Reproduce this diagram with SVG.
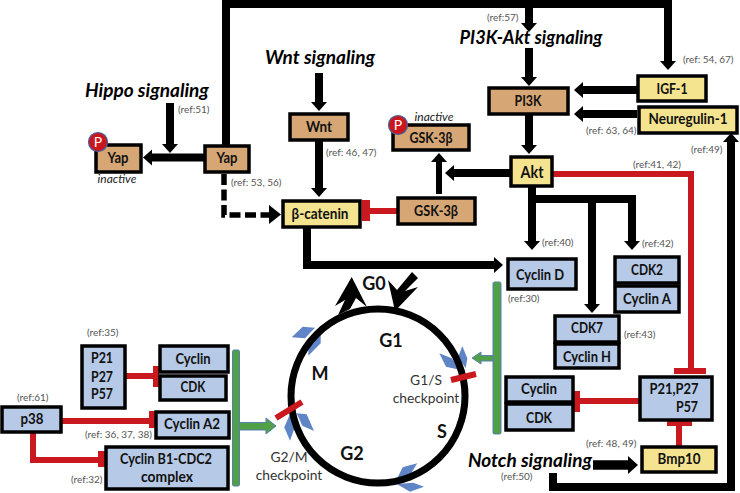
<svg xmlns="http://www.w3.org/2000/svg" width="740" height="493" viewBox="0 0 740 493">
<style>
text{font-family:Lato,"Liberation Sans",sans-serif}
.b{stroke:#000;stroke-width:3.5}
.t{fill:#D6A674}.y{fill:#F4E38F}.u{fill:#B6C9E6}
.l{font-weight:700;font-size:15px;text-anchor:middle;fill:#111}
.h{font-weight:700;font-style:italic;font-size:19px;fill:#000;text-anchor:middle}
.r{font-size:10px;fill:#555}
.i{font-style:italic;font-size:12px;fill:#222;text-anchor:middle}
.c{font-size:13.800px;fill:#333;text-anchor:middle}
.s{font-weight:700;font-size:18px;text-anchor:middle;fill:#111}
.k{fill:none;stroke:#000;stroke-width:8}
.rl{fill:none;stroke:#C9181E;stroke-width:6}
.rb{fill:#C9181E}
.g{fill:#4FA047;stroke:#5B7FB0;stroke-width:1}
.v{fill:#5F85C6}
.pc{fill:#C9171E;stroke:#46629E;stroke-width:1.200}
.pt{font-size:14px;fill:#fff;text-anchor:middle}
</style>
<defs>
<marker id="a" markerUnits="userSpaceOnUse" markerWidth="12" markerHeight="18" refX="0" refY="9" orient="auto"><path d="M0 1L9 9L0 17Z" fill="#000"/></marker>
<marker id="a2" markerUnits="userSpaceOnUse" markerWidth="12" markerHeight="20" refX="0" refY="10" orient="auto"><path d="M0 1L10 10L0 19Z" fill="#000"/></marker>
</defs>
<g id="connectors">
<path class="k" d="M226 146V4H668V61" marker-end="url(#a)"/>
<path class="k" d="M529 4V23" marker-end="url(#a)"/>
<path class="k" d="M170 103V144" marker-end="url(#a)"/>
<path class="k" d="M204 157.500H152" marker-end="url(#a)"/>
<path class="k" d="M319 73V102" marker-end="url(#a)"/>
<path class="k" d="M319 141V188" marker-end="url(#a)"/>
<path fill="none" stroke="#000" stroke-width="5.500" stroke-dasharray="11 4.500" d="M224 174V215H269"/>
<path d="M269 205L281 214.500L269 224Z" fill="#000"/>
<path class="k" d="M529 48V77" marker-end="url(#a)"/>
<path class="k" d="M529 115V145" marker-end="url(#a)"/>
<path class="k" d="M637 90H583" marker-end="url(#a)"/>
<path class="k" d="M637 114H583" marker-end="url(#a)"/>
<path class="k" d="M510 173H454" marker-end="url(#a)"/>
<path class="k" style="stroke-width:6" d="M439 194V162" marker-end="url(#a)"/>
<path class="k" d="M532 187V241" marker-end="url(#a)"/>
<path class="k" d="M532 199H632V241" marker-end="url(#a)"/>
<path class="k" d="M592 199V304" marker-end="url(#a)"/>
<path class="k" d="M307 228V265H494" marker-end="url(#a)"/>
<path class="k" style="stroke-width:9.500" d="M593 465H628" marker-end="url(#a2)"/>
<path class="k" d="M553 473V487H731V142" marker-end="url(#a)"/>
<path class="rl" d="M397 211H368"/><rect class="rb" x="362" y="200" width="8" height="21"/>
<path class="rl" d="M553 174H691V370"/><rect class="rb" x="674" y="368" width="32" height="6"/>
<path class="rl" d="M639 401H578"/><rect class="rb" x="573" y="391" width="7" height="21"/>
<path class="rl" d="M679 446V424"/><rect class="rb" x="667" y="419" width="25" height="7"/>
<path class="rl" d="M126 376H155"/><rect class="rb" x="153" y="366" width="6" height="21"/>
<path class="rl" d="M62 421H151"/><rect class="rb" x="149" y="411" width="7" height="17"/>
<path class="rl" d="M33 433V460H100"/><rect class="rb" x="98" y="451" width="7" height="16"/>
<path d="M338 315L345 300L335 306L351.700 277L367 307L356 298L350 309Z" fill="#000"/>
<path d="M412 272L418 278L405 291L418 287L395 311L388 280L397 290Z" fill="#000"/>
<rect class="g" x="232.500" y="350" width="7" height="136" rx="1.500"/>
<rect class="g" x="493" y="282" width="8" height="152" rx="1.500"/>
<path class="g" d="M239 422.500H266V418L276 426L266 434V430H239Z"/>
<path class="g" d="M493 355.500H481V352L472 358L481 364V361H493Z"/>
</g>
<g id="cell-cycle">
<polygon class="v" points="291.700,337.300 302.700,326.700 315,327.700 305,338.300"/>
<polygon class="v" points="308.300,355.700 308.300,343.300 320.700,332.700 320.700,343.300"/>
<polygon class="v" points="284.300,427.300 290,414 295,426.700 290,440.700"/>
<polygon class="v" points="296.700,413.300 306.700,414.300 314,431 302.300,425.700"/>
<polygon class="v" points="439.300,353.300 451.700,358.300 460.700,370 446,366.700"/>
<polygon class="v" points="462.300,346 467.300,358.300 465.700,368.300 458.300,356.700"/>
<polygon class="v" points="396.700,479.300 402.700,467.300 417.300,463.300 410,475"/>
<polygon class="v" points="396.700,484 413.300,482.700 424,486.700 410,491.700"/>
<circle cx="378" cy="396" r="87" fill="none" stroke="#000" stroke-width="7"/>
<path d="M276 418L302 402M451 380L476 374" stroke="#C9181E" stroke-width="6" fill="none"/>
<text class="s" x="374" y="290">G0</text>
<text class="s" x="391" y="347">G1</text>
<text class="s" x="320" y="380">M</text>
<text class="s" x="352" y="460">G2</text>
<text class="s" x="442" y="438">S</text>
<text class="c"><tspan x="426" y="385">G1/S</tspan><tspan x="426" y="403">checkpoint</tspan></text>
<text class="c"><tspan x="289" y="462">G2/M</tspan><tspan x="289" y="480">checkpoint</tspan></text>
</g>
<g id="yap-inactive"><rect class="b t" x="96" y="145" width="45" height="27"/><text class="l" x="118" y="163" textLength="21" lengthAdjust="spacingAndGlyphs">Yap</text><circle class="pc" cx="98" cy="142" r="9.500"/><text class="pt" x="98" y="147">P</text><text class="i" x="117" y="183">inactive</text></g>
<g id="yap"><rect class="b t" x="205" y="146" width="44" height="26"/><text class="l" x="227" y="163" textLength="21" lengthAdjust="spacingAndGlyphs">Yap</text></g>
<g id="wnt"><rect class="b t" x="290" y="114" width="58" height="26"/><text class="l" x="319" y="132" textLength="26" lengthAdjust="spacingAndGlyphs">Wnt</text></g>
<g id="beta-catenin"><rect class="b y" x="283" y="201" width="77" height="26"/><text class="l" x="320" y="219" textLength="57" lengthAdjust="spacingAndGlyphs">β-catenin</text></g>
<g id="pi3k"><rect class="b t" x="489" y="88" width="79" height="26"/><text class="l" x="528" y="106" textLength="27" lengthAdjust="spacingAndGlyphs">PI3K</text></g>
<g id="gsk-inactive"><rect class="b t" x="393" y="125" width="76" height="25"/><text class="l" x="431" y="143" textLength="43" lengthAdjust="spacingAndGlyphs">GSK-3β</text><circle class="pc" cx="398" cy="125" r="9.500"/><text class="pt" x="398" y="130">P</text><text class="i" x="434" y="121">inactive</text></g>
<g id="gsk"><rect class="b t" x="398" y="198" width="77" height="26"/><text class="l" x="436" y="216" textLength="44" lengthAdjust="spacingAndGlyphs">GSK-3β</text></g>
<g id="akt"><rect class="b y" x="511" y="157" width="41" height="29"/><text class="l" style="font-size:17px" x="532" y="178" textLength="23" lengthAdjust="spacingAndGlyphs">Akt</text></g>
<g id="igf1"><rect class="b y" x="638" y="76" width="68" height="25"/><text class="l" x="672" y="94" textLength="31" lengthAdjust="spacingAndGlyphs">IGF-1</text></g>
<g id="neuregulin"><rect class="b y" x="639" y="107" width="98" height="26"/><text class="l" x="688" y="124" textLength="79" lengthAdjust="spacingAndGlyphs">Neuregulin-1</text></g>
<g id="cyclin-d"><rect class="b u" x="508" y="259" width="68" height="30"/><text class="l" x="540" y="280" textLength="48" lengthAdjust="spacingAndGlyphs">Cyclin D</text></g>
<g id="cdk2"><rect class="b u" x="615" y="257" width="64" height="26"/><text class="l" x="647" y="275" textLength="32" lengthAdjust="spacingAndGlyphs">CDK2</text></g>
<g id="cyclin-a"><rect class="b u" x="615" y="286" width="64" height="26"/><text class="l" x="647" y="304" textLength="48" lengthAdjust="spacingAndGlyphs">Cyclin A</text></g>
<g id="cdk7"><rect class="b u" x="555" y="316" width="64" height="26"/><text class="l" x="587" y="333" textLength="32" lengthAdjust="spacingAndGlyphs">CDK7</text></g>
<g id="cyclin-h"><rect class="b u" x="555" y="344" width="64" height="24"/><text class="l" x="587" y="362" textLength="48" lengthAdjust="spacingAndGlyphs">Cyclin H</text></g>
<g id="cyclin-r"><rect class="b u" x="506" y="377" width="67" height="25"/><text class="l" x="539" y="394" textLength="36" lengthAdjust="spacingAndGlyphs">Cyclin</text></g>
<g id="cdk-r"><rect class="b u" x="506" y="404" width="67" height="26"/><text class="l" x="539" y="423" textLength="26" lengthAdjust="spacingAndGlyphs">CDK</text></g>
<g id="p21-r"><rect class="b u" x="640" y="377" width="72" height="43"/><text class="l" x="674" y="394" textLength="49" lengthAdjust="spacingAndGlyphs">P21,P27</text><text class="l" x="687" y="412" textLength="22" lengthAdjust="spacingAndGlyphs">P57</text></g>
<g id="bmp10"><rect class="b y" x="642" y="447" width="74" height="25"/><text class="l" x="679" y="464" textLength="43" lengthAdjust="spacingAndGlyphs">Bmp10</text></g>
<g id="p21-l"><rect class="b u" x="82" y="346" width="43" height="62"/><text class="l" x="102" y="363" textLength="22" lengthAdjust="spacingAndGlyphs">P21</text><text class="l" x="102" y="382" textLength="22" lengthAdjust="spacingAndGlyphs">P27</text><text class="l" x="102" y="399" textLength="22" lengthAdjust="spacingAndGlyphs">P57</text></g>
<g id="cyclin-l"><rect class="b u" x="160" y="346" width="68" height="26"/><text class="l" x="193" y="364" textLength="35" lengthAdjust="spacingAndGlyphs">Cyclin</text></g>
<g id="cdk-l"><rect class="b u" x="160" y="376" width="66" height="24"/><text class="l" x="193" y="392" textLength="25" lengthAdjust="spacingAndGlyphs">CDK</text></g>
<g id="p38"><rect class="b u" x="2" y="407" width="59" height="25"/><text class="l" x="32" y="424" textLength="23" lengthAdjust="spacingAndGlyphs">p38</text></g>
<g id="cyclin-a2"><rect class="b u" x="156" y="412" width="73" height="26"/><text class="l" x="192" y="429" textLength="56" lengthAdjust="spacingAndGlyphs">Cyclin A2</text></g>
<g id="cyclin-b1"><rect class="b u" x="106" y="447" width="122" height="42"/><text class="l" x="166" y="464" textLength="92" lengthAdjust="spacingAndGlyphs">Cyclin B1-CDC2</text><text class="l" x="167" y="482" textLength="52" lengthAdjust="spacingAndGlyphs">complex</text></g>
<g id="labels">
<text class="h" x="147" y="97">Hippo signaling</text>
<text class="h" x="320" y="64">Wnt signaling</text>
<text class="h" style="font-size:18.200px" x="531" y="44">PI3K-Akt signaling</text>
<text class="h" x="530" y="467">Notch signaling</text>
<text class="r" x="178" y="113">(ref:51)</text>
<text class="r" x="231" y="186">(ref: 53, 56)</text>
<text class="r" x="326" y="156">(ref: 46, 47)</text>
<text class="r" x="487" y="21">(ref:57)</text>
<text class="r" x="683" y="63">(ref: 54, 67)</text>
<text class="r" x="586" y="134">(ref: 63, 64)</text>
<text class="r" x="691" y="153">(ref:49)</text>
<text class="r" x="633" y="168">(ref:41, 42)</text>
<text class="r" x="542" y="246">(ref:40)</text>
<text class="r" x="642" y="247">(ref:42)</text>
<text class="r" x="508" y="302">(ref:30)</text>
<text class="r" x="624" y="338">(ref:43)</text>
<text class="r" x="586" y="447">(ref: 48, 49)</text>
<text class="r" x="501" y="480">(ref:50)</text>
<text class="r" x="87" y="336">(ref:35)</text>
<text class="r" x="17" y="401">(ref:61)</text>
<text class="r" x="85" y="438">(ref: 36, 37, 38)</text>
<text class="r" x="71" y="483">(ref:32)</text>
</g>
</svg>
